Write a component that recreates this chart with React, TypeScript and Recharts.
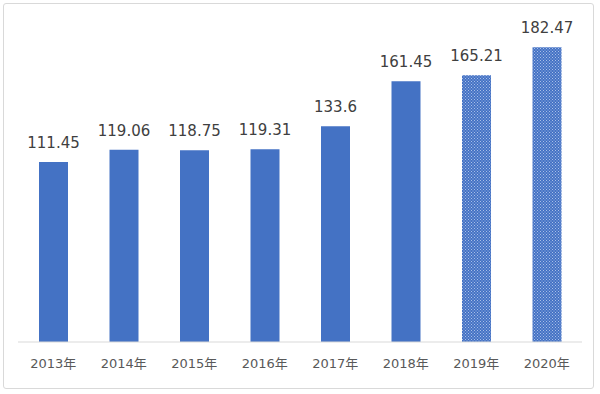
import { BarChart, Bar, XAxis, YAxis, LabelList, Cell } from 'recharts';

const years = ['2013年', '2014年', '2015年', '2016年', '2017年', '2018年', '2019年', '2020年'];
const values = [111.45, 119.06, 118.75, 119.31, 133.6, 161.45, 165.21, 182.47];
const forecast = [false, false, false, false, false, false, true, true];

const data = years.map((year, i) => ({ year, value: values[i], forecast: forecast[i] }));

const font = '"DejaVu Sans", "Noto Sans CJK SC", sans-serif';

export default function App() {
  return (
    <div style={{ position: 'absolute', left: 0, top: 0, width: 600, height: 394, background: '#fff' }}>
      <div
        style={{
          position: 'absolute',
          left: 3,
          top: 3,
          width: 589,
          height: 384,
          border: '1px solid #d9d9d9',
          borderRadius: 3,
        }}
      />
      <BarChart
        width={600}
        height={394}
        data={data}
        margin={{ top: 19, right: 18, left: 18, bottom: 0 }}
        style={{ position: 'absolute', left: 0, top: 0 }}
      >
        <defs>
          <pattern id="dots" width="3" height="3" patternUnits="userSpaceOnUse">
            <rect width="3" height="3" fill="#4472C4" />
            <rect x="0" y="0" width="1" height="1" fill="#a9bfe8" />
            <rect x="1.5" y="1.5" width="1" height="1" fill="#a9bfe8" />
          </pattern>
        </defs>
        <XAxis
          dataKey="year"
          height={52}
          tickLine={false}
          axisLine={{ stroke: '#d9d9d9' }}
          tick={{ fill: '#595959', fontSize: 13, fontFamily: font }}
          dy={9}
        />
        <YAxis hide domain={[0, 200]} />
        <Bar dataKey="value" barSize={29} isAnimationActive={false}>
          {data.map((d, i) => (
            <Cell key={i} fill={d.forecast ? 'url(#dots)' : '#4472C4'} />
          ))}
          <LabelList
            dataKey="value"
            position="top"
            offset={14}
            style={{ fill: '#404040', fontSize: 15, fontFamily: font }}
          />
        </Bar>
      </BarChart>
    </div>
  );
}
